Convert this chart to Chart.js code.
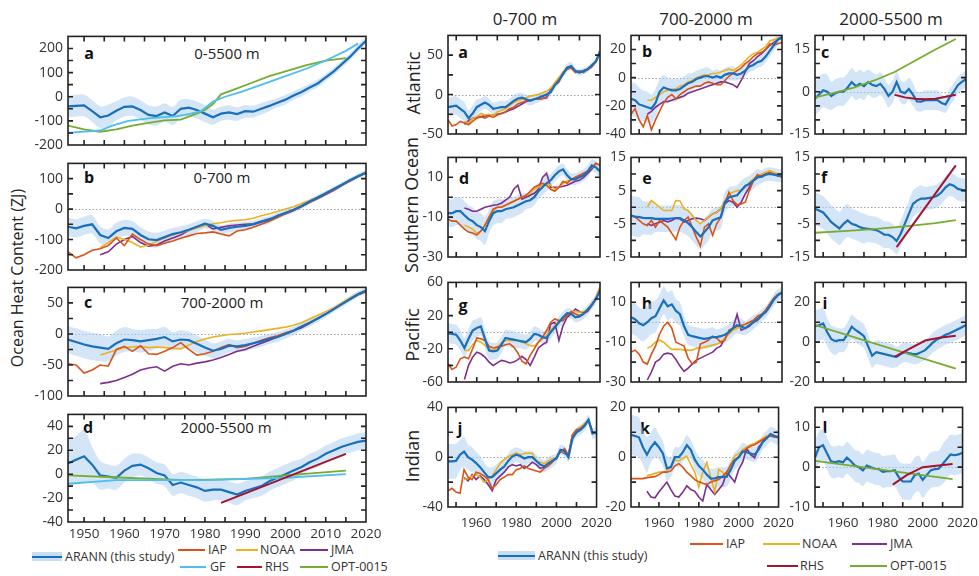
<!DOCTYPE html>
<html><head><meta charset="utf-8">
<script src="https://cdn.jsdelivr.net/npm/chart.js@4.4.1/dist/chart.umd.min.js"></script>
<style>
body{margin:0;background:#fff;width:979px;height:576px;position:relative;overflow:hidden;font-family:'Open Sans',sans-serif;color:#333}
canvas{position:absolute}
.t{position:absolute;white-space:nowrap;transform:translate(-50%,-50%);line-height:1}
.ttl{font-size:15px;color:#222}
.hdr{font-size:17px;color:#222}
.lt{font-size:16px;font-weight:bold;color:#111}
.rot{transform:translate(-50%,-50%) rotate(-90deg);font-size:18px;color:#222}
.lg{position:absolute;font-size:12.5px;color:#333;white-space:nowrap;line-height:1;transform:translateY(-50%)}
.ll{position:absolute;height:2px}
.lb{position:absolute;height:9px;background:rgba(175,208,238,0.7)}
</style></head><body>

<div class="t rot" style="left:17px;top:278px;font-size:16px">Ocean Heat Content (ZJ)</div>
<div class="t ttl" style="left:227px;top:53px">0-5500 m</div>
<div class="t ttl" style="left:222px;top:177px">0-700 m</div>
<div class="t ttl" style="left:222px;top:302px">700-2000 m</div>
<div class="t ttl" style="left:226px;top:427px">2000-5500 m</div>
<div class="t lt" style="left:89px;top:53px">a</div>
<div class="t lt" style="left:89px;top:177px">b</div>
<div class="t lt" style="left:88px;top:302px">c</div>
<div class="t lt" style="left:88px;top:427px">d</div>

<div class="t hdr" style="left:525px;top:18px">0-700 m</div>
<div class="t hdr" style="left:706px;top:18px">700-2000 m</div>
<div class="t hdr" style="left:891px;top:18px">2000-5500 m</div>
<div class="t rot" style="left:413px;top:83px">Atlantic</div>
<div class="t rot" style="left:411px;top:205px">Southern Ocean</div>
<div class="t rot" style="left:412px;top:335px">Pacific</div>
<div class="t rot" style="left:412px;top:456px">Indian</div>
<div class="t lt" style="left:463px;top:52px">a</div>
<div class="t lt" style="left:647px;top:51px">b</div>
<div class="t lt" style="left:825px;top:52px">c</div>
<div class="t lt" style="left:464px;top:178px">d</div>
<div class="t lt" style="left:647px;top:178px">e</div>
<div class="t lt" style="left:824px;top:177px">f</div>
<div class="t lt" style="left:463px;top:305px">g</div>
<div class="t lt" style="left:647px;top:303px">h</div>
<div class="t lt" style="left:825px;top:303px">i</div>
<div class="t lt" style="left:460px;top:428px">j</div>
<div class="t lt" style="left:645px;top:428px">k</div>
<div class="t lt" style="left:825px;top:427px">l</div>

<!-- left legend -->
<div class="lb" style="left:32px;top:552px;width:30px"></div>
<div class="ll" style="left:32px;top:556px;width:30px;background:#1a6fbd"></div>
<div class="lg" style="left:65px;top:557px">ARANN (this study)</div>
<div class="ll" style="left:178px;top:549px;width:27px;background:#d95319"></div>
<div class="lg" style="left:208px;top:550px">IAP</div>
<div class="ll" style="left:236px;top:549px;width:22px;background:#edb120"></div>
<div class="lg" style="left:260px;top:550px">NOAA</div>
<div class="ll" style="left:300px;top:549px;width:28px;background:#7e2f8e"></div>
<div class="lg" style="left:331px;top:550px">JMA</div>
<div class="ll" style="left:180px;top:566px;width:26px;background:#4dbeee"></div>
<div class="lg" style="left:210px;top:567px">GF</div>
<div class="ll" style="left:237px;top:566px;width:25px;background:#a2142f"></div>
<div class="lg" style="left:265px;top:567px">RHS</div>
<div class="ll" style="left:300px;top:566px;width:28px;background:#77ac30"></div>
<div class="lg" style="left:331px;top:567px">OPT-0015</div>

<!-- right legend -->
<div class="lb" style="left:498px;top:551px;width:37px"></div>
<div class="ll" style="left:498px;top:555px;width:37px;background:#1a6fbd"></div>
<div class="lg" style="left:538px;top:556px">ARANN (this study)</div>
<div class="ll" style="left:690px;top:543px;width:33px;background:#d95319"></div>
<div class="lg" style="left:726px;top:544px">IAP</div>
<div class="ll" style="left:763px;top:543px;width:37px;background:#edb120"></div>
<div class="lg" style="left:802px;top:544px">NOAA</div>
<div class="ll" style="left:852px;top:543px;width:35px;background:#7e2f8e"></div>
<div class="lg" style="left:890px;top:544px">JMA</div>
<div class="ll" style="left:767px;top:565px;width:31px;background:#a2142f"></div>
<div class="lg" style="left:800px;top:566px">RHS</div>
<div class="ll" style="left:850px;top:565px;width:37px;background:#77ac30"></div>
<div class="lg" style="left:890px;top:566px">OPT-0015</div>

<script>
// ---------- DATA ----------
const YEARS = [1946,1948,1950,1952,1954,1956,1958,1960,1962,1964,1966,1968,1970,1972,1974,1976,1978,1980,1982,1984,1986,1988,1990,1992,1994,1996,1998,2000,2002,2004,2006,2008,2010,2012,2014,2016,2018,2020];

// Global, left column
const G_ARANN_0_5500 = [-40,-38,-36,-60,-85,-78,-58,-42,-40,-55,-75,-80,-65,-80,-50,-45,-55,-70,-85,-70,-65,-72,-60,-62,-50,-38,-25,-12,5,20,38,55,80,105,135,165,200,232];
const G_UNC_0_5500 = [45,45,45,45,45,45,40,40,40,40,40,40,38,38,38,35,35,35,32,30,30,28,26,25,24,22,20,20,18,18,16,16,15,15,15,15,15,15];
const G_GF_YEARS = [1946,1950,1954,1957,1961,1966,1973,1976,1979,1982,1985,1989,1995,2000,2005,2010,2015,2018];
const G_GF_0_5500 = [-150,-145,-140,-120,-100,-90,-80,-72,-60,-20,0,20,55,85,115,150,190,220];
const G_OPT_YEARS = [1946,1950,1954,1958,1962,1966,1970,1974,1978,1980,1982,1984,1988,1992,1996,2000,2005,2010,2015];
const G_OPT_0_5500 = [-120,-135,-145,-135,-120,-108,-98,-95,-70,-55,-30,10,35,60,85,105,130,150,160];

const G_ARANN_0_700 = [-58,-63,-55,-50,-85,-95,-73,-62,-65,-85,-99,-102,-92,-82,-76,-68,-58,-48,-55,-68,-62,-58,-55,-50,-42,-35,-22,-12,-2,10,25,38,52,66,80,95,108,120];
const G_UNC_0_700 = [30,30,30,30,28,28,28,26,26,25,25,24,22,20,20,18,18,16,16,15,15,14,14,12,12,12,10,10,10,10,9,9,8,8,8,8,8,8];
const G_IAP_0_700 = [-140,-160,-150,-135,-130,-120,-95,-120,-82,-100,-115,-120,-112,-105,-96,-88,-80,-78,-75,-82,-88,-72,-68,-60,-50,-40,-28,-15,-5,8,22,36,50,62,78,93,108,118];
const G_NOAA_0_700 = [null,null,null,null,-127,-110,-92,-100,-110,-125,-118,-106,-95,-85,-78,-70,-62,-55,-48,-45,-40,-37,-35,-30,-22,-15,-8,0,8,18,28,40,52,65,80,95,108,118];
const G_JMA_0_700 = [null,null,null,null,-150,-140,-115,-100,-90,-110,-122,-118,-105,-95,-85,-70,-60,-48,-65,-60,-55,-52,-50,-48,-40,-32,-25,-15,-5,8,22,35,48,62,78,92,106,118];

const G_ARANN_700_2000 = [-9,-13,-17,-20,-22,-24,-15,-9,-10,-12,-10,-8,-5,-12,-9,-10,-16,-22,-27,-24,-19,-20,-18,-15,-12,-8,-5,0,5,12,18,25,32,40,48,56,64,70];
const G_UNC_700_2000 = [22,22,22,22,22,20,20,20,18,18,18,16,16,15,15,14,14,13,12,12,11,10,10,9,9,8,8,7,7,6,6,6,5,5,5,5,5,5];
const G_IAP_700_2000 = [-48,-50,-63,-58,-50,-52,-25,-20,-28,-19,-32,-33,-28,-22,-14,-25,-34,-32,-28,-22,-17,-22,-20,-15,-10,-6,-3,2,6,12,18,25,32,40,48,56,63,68];
const G_NOAA_700_2000 = [null,null,null,null,-34,-30,-26,-22,-21,-20,-22,-21,-22,-23,-24,-18,-12,-8,-5,-3,-1,0,1,3,5,7,9,11,14,18,24,30,36,42,50,58,65,70];
const G_JMA_700_2000 = [null,null,null,null,-80,-78,-75,-70,-65,-58,-55,-53,-60,-52,-48,-50,-47,-45,-42,-38,-33,-28,-25,-20,-15,-10,-5,0,5,10,17,25,32,40,48,56,63,68];

const G_ARANN_2000_5500 = [9,12,15,8,-1,-2,-3,3,7,8,5,1,-1,-9,-7,-9,-11,-14,-13,-13,-15,-17,-14,-12,-10,-6,-3,0,3,6,10,13,17,20,23,25,27,28];
const G_UNC_2000_5500 = [20,20,22,15,12,10,10,10,10,9,9,9,9,9,9,9,9,9,9,9,9,9,8,8,8,8,8,8,8,7,7,7,7,7,7,7,7,7];
const G_GF_DEEP_YEARS = [1946,1958,1980,2000,2015];
const G_GF_2000_5500 = [-8,-5,-5,-3,0];
const G_OPT_DEEP_YEARS = [1946,1960,1975,1990,2000,2015];
const G_OPT_2000_5500 = [-1,-3,-5,-4,-1,3];
const G_RHS_YEARS = [1984,2015];
const G_RHS_2000_5500 = [-24,17];

// Atlantic
const ATL_ARANN_0_700 = [-16,-15,-14,-18,-22,-30,-24,-16,-13,-10,-13,-18,-17,-16,-16,-12,-8,-5,-4,-6,-8,-6,-4,-2,0,3,12,18,26,34,36,30,28,30,32,37,42,55];
const ATL_UNC_0_700 = [12,12,12,12,12,10,10,10,8,8,8,8,8,8,8,7,7,7,6,6,6,6,6,6,6,5,5,5,5,5,5,4,4,4,4,4,4,4];
const ATL_IAP_0_700 = [-32,-40,-38,-34,-36,-38,-34,-30,-28,-30,-27,-29,-26,-24,-22,-18,-16,-12,-10,-8,-7,-6,-6,-5,-3,5,12,16,28,32,34,28,30,28,32,35,42,52];
const ATL_NOAA_0_700 = [null,null,null,null,-34,-36,-30,-28,-24,-26,-25,-27,-22,-20,-18,-14,-10,-8,-6,-4,-2,-1,0,2,4,8,15,22,28,35,33,30,28,30,33,36,43,52];
const ATL_JMA_0_700 = [null,null,null,null,-38,-33,-30,-29,-28,-27,-27,-26,-25,-24,-22,-20,-18,-15,-12,-9,-7,-6,-6,-5,-4,6,14,18,26,33,34,29,28,30,32,36,42,52];

const ATL_ARANN_700_2000 = [-15,-16,-19,-20,-21,-22,-18,-10,-7,-8,-9,-9,-8,-6,-4,-3,-1,0,1,1,0,1,0,2,3,3,2,3,5,8,9,11,12,15,19,23,27,29];
const ATL_UNC_700_2000 = [12,12,12,11,11,10,10,9,9,8,8,8,7,7,7,6,6,6,6,6,5,5,5,5,5,5,4,4,4,4,4,4,4,4,4,4,4,4];
const ATL_IAP_700_2000 = [-26,-22,-30,-35,-27,-37,-30,-24,-18,-14,-12,-15,-12,-10,-8,-7,-6,-6,-4,-3,-4,-5,-5,-2,1,3,5,7,10,12,15,17,18,20,24,23,24,25];
const ATL_NOAA_700_2000 = [null,null,null,null,-16,-16,-14,-12,-10,-9,-8,-8,-6,-5,-3,-2,0,1,2,2,3,3,4,5,6,5,7,9,12,15,17,18,20,22,26,27,28,29];
const ATL_JMA_700_2000 = [null,null,null,null,-26,-24,-21,-19,-17,-17,-16,-15,-14,-13,-11,-10,-9,-8,-7,-6,-5,-4,-3,-3,-4,-5,-7,-2,4,10,12,15,17,20,23,25,27,28];

const ATL_ARANN_2000_5500 = [-2.5,-1,0.5,0,-1.5,-0.5,0,0,1.5,3.4,2,2.8,2,3.4,2.5,2,2.8,1,-1.5,0,3.4,0,-0.5,1,-1,-3.4,-3.5,-3,-3,-3,-3,-4,-4.5,-2,0,2.3,3.5,4.5];
const ATL_UNC_2000_5500 = [6,6,6,6,5,5,5,5,5,5,5,5,5,4.5,4.5,4,4,4,4,4,4,4,4,4,4,3.5,3.5,3.5,3.5,3.5,3.5,3,3,3,3,3,3,3];
const ATL_OPT_YEARS = [1946,1955,1965,1975,1985,1995,2005,2015];
const ATL_OPT_2000_5500 = [-2,-0.5,1.5,4,7,11,15,18.7];
const ATL_RHS_YEARS = [1985,1990,1995,2000,2005,2010,2015];
const ATL_RHS_2000_5500 = [-1.1,-2,-2.5,-2.7,-2.5,-1.8,-1.1];

// Southern Ocean
const SO_ARANN_0_700 = [-8,-8,-7,-7,-9,-11,-12,-14,-15,-17,-12,-8,-7,-7,-6,-5.5,-5,-4,-3,-2,-1.5,0,3,5,7,8.5,11,13,14,11,9,9,10,11,13,16,15,13];
const SO_UNC_0_700 = [7,7,7,7,7,7,7,7,7,7,6,6,6,6,5,5,5,5,5,4,4,4,4,4,4,3,3,3,3,3,3,3,3,3,3,3,3,3];
const SO_IAP_0_700 = [-11,-12,-12,-14,-16,-17.5,-18,-19,-17,-14,-10,-6,-5,-5,-4,-3,-2,-1,0,1,3,5,6,7,6,4,3,5,8,7,9,10,11,12,13,15,17,16];
const SO_NOAA_0_700 = [null,null,null,null,-14,-15,-16,-18,-17,-14,-10,-7,-5,-5,-4,-3,-2,-1,0,1,2,4,5,6,7,6,4,5,7,8,9,10,11,12,13,15,17,16];
const SO_JMA_0_700 = [null,null,null,null,-5.4,-6,-7,-7,-6,-5,-4.5,-4,-3.8,-3,-1.4,0,4,6,-1,0,1,2,4,10,12,5,5,5,5.5,6,7,8,8.5,10,12,14,17,16];

const SO_ARANN_700_2000 = [-2.5,-2.8,-3,-3.2,-3.3,-3.3,-3.5,-3.5,-3.5,-3.5,-3.4,-3.3,-3.3,-4,-4.8,-6,-7.5,-8.8,-7.5,-6,-4,-3.5,-3,1.5,3,3.3,3.6,5,6.4,7,8,9,9.2,9.8,10,9.8,9.5,9.5];
const SO_UNC_700_2000 = [6,6,6,5,5,5,4,4,4,4,4,4,4,4,4,4,4,4,4,4,3.5,3.5,3.5,3,3,3,3,3,2.5,2.5,2.5,2.5,2,2,2,2,2,2];
const SO_IAP_700_2000 = [-2.6,-3,-4,-5,-5.5,-4,-6,-4,-5,-6,-7.9,-9.8,-6,-4,-3,-6,-9,-11.7,-6,-5,-8.5,-5,-3,1,4.5,2,0.7,1,1.5,5,8,9.8,9,10,10.5,10,9.5,9];
const SO_NOAA_700_2000 = [null,null,null,null,0,2,1,0,-1,-1,-1,2,1.9,-0.5,-1,-2.5,-4,-5,-4,-3,-2,-1.5,-0.5,2,4,4.5,5,5,6,7.5,8.5,9.5,10,10.5,11,10.5,10,10];
const SO_JMA_700_2000 = [null,null,null,null,-5,-5.5,-5,-4.5,-4,-4.4,-4,-3.3,-3.5,-4.5,-4,-3.5,-3.3,-3.5,-4,-3,-2,-1.5,-0.5,1,2,1.5,0,1.5,4,6,8,9,9.5,10,10,10,9.5,9.5];

const SO_ARANN_2000_5500 = [-0.5,-1,-1.6,-3,-4.5,-5.5,-6.4,-5,-4,-5,-5.4,-6,-6.4,-6.5,-6.7,-6.9,-7.5,-8.3,-8.3,-9,-10.2,-8,-5,-2,1,2,2.6,2.6,2.8,3,3.5,4.5,6,6.9,6.5,5.5,5.2,5];
const SO_UNC_2000_5500 = [5,5,5,5,5,5,5,5,5,4.5,4.5,4.5,4.5,4,4,4,4,4,4,4,4,4,4,4,4,4,4,3.5,3.5,3.5,3.5,3.5,3.5,3.5,3.5,3.5,3.5,3.5];
const SO_RHS_YEARS = [1986,2015];
const SO_RHS_2000_5500 = [-12,12.6];
const SO_OPT_YEARS = [1946,1960,1975,1990,2005,2015];
const SO_OPT_2000_5500 = [-7.7,-7.2,-6.6,-5.8,-4.8,-3.9];

// Pacific
const PAC_ARANN_0_700 = [-1,-2,-3,-10,-19,-8,2,5,7,-8,-22,-23,-22,-15,-7,-8,-9,-10,-11,-12,-8,-2,-3,-6,-7,0,6,12,18,23,22,18,19,22,27,33,40,50];
const PAC_UNC_0_700 = [12,12,12,12,12,12,12,11,11,11,11,10,10,10,10,10,10,9,9,9,9,9,8,8,8,8,7,7,7,6,6,6,6,6,6,6,6,6];
const PAC_IAP_0_700 = [-38,-45,-42,-32,-30,-32,-20,-7,-8,-10,-17,-19,-18,-17,-15,-14,-18,-25,-35,-38,-28,-20,-12,-6,2,12,16,14,14,20,25,22,20,22,28,33,40,52];
const PAC_NOAA_0_700 = [null,null,null,null,-22,-22,-15,-10,-12,-16,-20,-22,-18,-13,-10,-10,-10,-10,-12,-14,-16,-17,-12,-8,-4,2,8,13,17,22,25,25,24,25,27,34,42,55];
const PAC_JMA_0_700 = [null,null,null,null,-57,-40,-30,-24,-26,-30,-36,-40,-37,-34,-35,-37,-36,-33,-29,-33,-40,-30,-19,-15,-12,10,12,-10,8,18,22,28,25,23,25,32,40,52];

const PAC_ARANN_700_2000 = [2.5,1.5,-0.5,-1.5,0,2,3,7,11,8,9,5.7,4,-2,-6.3,-7,-7.5,-8,-8.3,-8,-7.5,-7.5,-7,-6.3,-5,-3,-1.5,-2,-3,-1.5,0,1.5,3.5,5,8,11.3,13.5,15];
const PAC_UNC_700_2000 = [8,8,8,8,8,8,8,7,7,7,7,6,6,5,5,5,5,5,5,5,5,4,4,4,4,4,4,4,3.5,3.5,3.5,3,3,3,3,3,3,3];
const PAC_IAP_700_2000 = [-15,-14,-16,-20,-21,-16,-12,-6,-2,0,-3,-10,-11,-12,-18,-21,-20,-11,-10,-9,-7,-8,-10,-9,-4,-3,-2,-1.5,-1,0,1,3,4,6,9,12,14,15];
const PAC_NOAA_700_2000 = [null,null,null,null,-13,-12,-10,-9,-10,-12,-13.6,-13.6,-13.6,-14,-14,-14,-13,-13,-12.5,-12,-11.5,-11,-10,-8,-6,-4,-3,-2,-1,0,1,2.5,4,6,9,12,14,15];
const PAC_JMA_700_2000 = [null,null,null,null,-29,-25,-20,-18.7,-16,-15.5,-16,-18.7,-22,-24.7,-23,-21,-19,-18,-17,-16,-15,-13,-12,-8,-5,-3,4,-4,-3,-2,0,1,3,6,9,12,14,15];

const PAC_ARANN_2000_5500 = [8,8.5,9.4,5,1.5,0.5,1,1,4,7.8,6,4.6,3,-2,-6.8,-5,-5.5,-6,-6.5,-7,-7.4,-6,-5,-5.5,-6,-6,-5,-4,-2,0,1.5,2.5,3.7,4.5,5.5,6.5,7.5,8.6];
const PAC_UNC_2000_5500 = [8,8,8,7,7,7,6,6,6,6,6,6,6,6,6,6,6,6,6,6,5,5,5,5,5,5,5,5,5,5,5,5,5,5,5,5,5,5];
const PAC_OPT_YEARS = [1946,2015];
const PAC_OPT_2000_5500 = [8.6,-13.3];
const PAC_RHS_YEARS = [1985,1992,2000,2007,2015];
const PAC_RHS_2000_5500 = [-7.4,-3.5,0.8,2.2,3.2];

// Indian
const IND_ARANN_0_700 = [-3.4,-3.4,-3,2,4.5,0,-2,-4.7,-8,-12,-16,-16,-13,-10,-7.5,-3,0.5,2,1,-1,0,0,-3,-6,-7.3,-5,-3,-1,6,5,0,15,20,22,25,30,19,20];
const IND_UNC_0_700 = [14,14,14,12,12,10,10,9,9,8,8,8,7,7,6,6,6,6,6,6,5,5,5,5,5,5,5,4,4,4,4,4,4,4,4,4,4,4];
const IND_IAP_0_700 = [-27,-25,-28,-29,-10,-16,-18,-12,-13,-15,-18,-25,-22,-18,-16,-14,-14,-10,-9,-7,-9,-10,-11,-12,-9,-7,-4,0,4,7,2,18,22,23,26,30,20,19];
const IND_NOAA_0_700 = [null,null,null,null,-18,-17,-15,-14,-16,-20,-18,-15,-10,-5,-2,0.5,2,3.4,2,3,3.4,3,-3,-4,-5,-3,-1,-1,5,4,2,17,22,24,27,30,20,19];
const IND_JMA_0_700 = [null,null,null,null,-16.5,-19,-14,-18,-15,-18,-22,-27,-18,-15,-12,-8,-6,-7,-6,-9,-7,-4,-6,-9,-8,-5,-3,-1,5,3,2,18,21,24,26,30,20,19];

const IND_ARANN_700_2000 = [9,8.5,8,4,1,4,6,4,1.5,-4.5,-4,0,0,2,4.8,3,-1,-3.5,-5,-7,-8.6,-8.5,-8,-8,-7.8,-5,-1.5,0,2.3,2,1.5,1,3,6,7.5,9.3,8.5,7.8];
const IND_UNC_700_2000 = [8,8,8,7,7,6,6,5,5,5,4,4,4,4,4,4,4,4,4,4,4,4,4,4,4,4,3.5,3.5,3.5,3,3,3,3,3,3,3,3,3];
const IND_IAP_700_2000 = [-8.6,-8.6,-8.6,-8.6,-8.2,-8,-7.8,-7,-6,-6,-5.5,-3.5,-2.6,-4,-6,-7.5,-9,-9.9,-10.5,-11,-10,-9.5,-9,-7.5,-6,-3,-1,0,2,3.5,4.5,5,6,7,8,8.5,8,8];
const IND_NOAA_700_2000 = [null,null,null,null,-7.4,-7,-6.5,-6,-6,-5.5,-4,-1,-1.5,-0.5,0.4,-3,-6,-12,-6,-2,-8,-14,-5,-6,-7.8,-3,0.5,1.5,3,4,5,5.5,6.5,7.5,8.5,9,8.5,8.5];
const IND_JMA_700_2000 = [null,null,null,null,-13.7,-16,-16.3,-14,-12,-10,-13,-15.6,-16,-14,-11.5,-13,-13.7,-16,-17.6,-11,-13,-15,-13,-11,-6,-8,-10,-5,-2,3.5,1,-0.3,4,6,8,9.3,8.5,8];

const IND_ARANN_2000_5500 = [2.4,5,5.5,3.5,1.5,1.2,1.5,1.2,2.4,1.5,0.4,0,-0.8,0.4,0,-0.4,-0.5,-1.2,-1,-1,-0.8,-2.5,-3.6,-3.6,-3.6,-2,-1.6,-3.2,-2,-0.8,-0.5,-0.4,0.8,2,3.2,3,3.2,3.6];
const IND_UNC_2000_5500 = [4,4,4,4,4,4,4,4,4,4,4,4,4,4,4,4,4,4,4,4,4,4,4.5,4.5,4.5,4.5,4.5,4.5,4.5,4.5,4.5,4.5,5,5,5,5,5,5];
const IND_OPT_YEARS = [1946,2015];
const IND_OPT_2000_5500 = [1.6,-3];
const IND_RHS_YEARS = [1985,1992,2000,2015];
const IND_RHS_2000_5500 = [-4.4,-2,0,0.8];

// Tick arrays
const X_TICKS_LEFT = [1950,1955,1960,1965,1970,1975,1980,1985,1990,1995,2000,2005,2010,2015,2020];
const X_LABELS_LEFT = [1950,1960,1970,1980,1990,2000,2010,2020];
const X_TICKS_RIGHT = [1950,1960,1970,1980,1990,2000,2010,2020];
const X_LABELS_RIGHT = [1960,1980,2000,2020];

// ---------- STYLE ----------
const COL = {ARANN:'#1a6fbd', GF:'#4dbeee', IAP:'#d95319', NOAA:'#edb120', JMA:'#7e2f8e', RHS:'#a2142f', OPT:'#77ac30'};
const BAND = 'rgba(175,208,238,0.55)';
const FONT = "'Open Sans', sans-serif";

function rng(a, b, s){ const o=[]; for(let v=a; v<=b+1e-9; v+=s) o.push(+v.toFixed(3)); return o; }

const PANELS = [
 {box:[68,33,366,145], side:'L', y:[-200,250], yt:rng(-200,250,50), yl:[-200,-100,0,100,200], showX:false, zero:false,
  ar:G_ARANN_0_5500, un:G_UNC_0_5500, lines:[['GF',G_GF_YEARS,G_GF_0_5500],['OPT',G_OPT_YEARS,G_OPT_0_5500]]},
 {box:[68,160,366,270], side:'L', y:[-200,150], yt:rng(-200,150,50), yl:[-200,-100,0,100], showX:false, zero:true,
  ar:G_ARANN_0_700, un:G_UNC_0_700, lines:[['JMA',YEARS,G_JMA_0_700],['NOAA',YEARS,G_NOAA_0_700],['IAP',YEARS,G_IAP_0_700]]},
 {box:[68,284,366,396], side:'L', y:[-100,75], yt:rng(-100,75,25), yl:[-100,-50,0,50], showX:false, zero:true,
  ar:G_ARANN_700_2000, un:G_UNC_700_2000, lines:[['JMA',YEARS,G_JMA_700_2000],['NOAA',YEARS,G_NOAA_700_2000],['IAP',YEARS,G_IAP_700_2000]]},
 {box:[68,411,366,522], side:'L', y:[-40,50], yt:rng(-40,50,10), yl:[-40,-20,0,20,40], showX:true, zero:false,
  ar:G_ARANN_2000_5500, un:G_UNC_2000_5500, lines:[['GF',G_GF_DEEP_YEARS,G_GF_2000_5500],['OPT',G_OPT_DEEP_YEARS,G_OPT_2000_5500],['RHS',G_RHS_YEARS,G_RHS_2000_5500]]},

 {box:[448,32,600,134], side:'R', y:[-50,75], yt:rng(-50,75,25), yl:[-50,0,50], showX:false, zero:true,
  ar:ATL_ARANN_0_700, un:ATL_UNC_0_700, lines:[['JMA',YEARS,ATL_JMA_0_700],['NOAA',YEARS,ATL_NOAA_0_700],['IAP',YEARS,ATL_IAP_0_700]]},
 {box:[631,32,782,134], side:'R', y:[-40,30], yt:rng(-40,30,10), yl:[-40,-20,0,20], showX:false, zero:true,
  ar:ATL_ARANN_700_2000, un:ATL_UNC_700_2000, lines:[['JMA',YEARS,ATL_JMA_700_2000],['NOAA',YEARS,ATL_NOAA_700_2000],['IAP',YEARS,ATL_IAP_700_2000]]},
 {box:[815,32,966,134], side:'R', y:[-15,20], yt:rng(-15,20,5), yl:[-15,0,15], showX:false, zero:true,
  ar:ATL_ARANN_2000_5500, un:ATL_UNC_2000_5500, lines:[['OPT',ATL_OPT_YEARS,ATL_OPT_2000_5500],['RHS',ATL_RHS_YEARS,ATL_RHS_2000_5500]]},

 {box:[448,154,600,257], side:'R', y:[-30,20], yt:rng(-30,20,10), yl:[-30,-10,10], showX:false, zero:true,
  ar:SO_ARANN_0_700, un:SO_UNC_0_700, lines:[['JMA',YEARS,SO_JMA_0_700],['NOAA',YEARS,SO_NOAA_0_700],['IAP',YEARS,SO_IAP_0_700]]},
 {box:[631,154,782,257], side:'R', y:[-15,15], yt:rng(-15,15,5), yl:[-15,-5,5,15], showX:false, zero:true,
  ar:SO_ARANN_700_2000, un:SO_UNC_700_2000, lines:[['JMA',YEARS,SO_JMA_700_2000],['NOAA',YEARS,SO_NOAA_700_2000],['IAP',YEARS,SO_IAP_700_2000]]},
 {box:[815,154,966,257], side:'R', y:[-15,15], yt:rng(-15,15,5), yl:[-15,-5,5,15], showX:false, zero:true,
  ar:SO_ARANN_2000_5500, un:SO_UNC_2000_5500, lines:[['OPT',SO_OPT_YEARS,SO_OPT_2000_5500],['RHS',SO_RHS_YEARS,SO_RHS_2000_5500]]},

 {box:[448,279,600,382], side:'R', y:[-60,60], yt:rng(-60,60,20), yl:[-60,-20,20,60], showX:false, zero:true,
  ar:PAC_ARANN_0_700, un:PAC_UNC_0_700, lines:[['JMA',YEARS,PAC_JMA_0_700],['NOAA',YEARS,PAC_NOAA_0_700],['IAP',YEARS,PAC_IAP_0_700]]},
 {box:[631,279,782,382], side:'R', y:[-30,20], yt:rng(-30,20,10), yl:[-30,-10,10], showX:false, zero:true,
  ar:PAC_ARANN_700_2000, un:PAC_UNC_700_2000, lines:[['JMA',YEARS,PAC_JMA_700_2000],['NOAA',YEARS,PAC_NOAA_700_2000],['IAP',YEARS,PAC_IAP_700_2000]]},
 {box:[815,279,966,382], side:'R', y:[-20,30], yt:rng(-20,30,10), yl:[-20,0,20], showX:false, zero:true,
  ar:PAC_ARANN_2000_5500, un:PAC_UNC_2000_5500, lines:[['OPT',PAC_OPT_YEARS,PAC_OPT_2000_5500],['RHS',PAC_RHS_YEARS,PAC_RHS_2000_5500]]},

 {box:[448,404,600,507], side:'R', y:[-40,40], yt:rng(-40,40,20), yl:[-40,0,40], showX:true, zero:true,
  ar:IND_ARANN_0_700, un:IND_UNC_0_700, lines:[['JMA',YEARS,IND_JMA_0_700],['NOAA',YEARS,IND_NOAA_0_700],['IAP',YEARS,IND_IAP_0_700]]},
 {box:[631,404,782,507], side:'R', y:[-20,20], yt:rng(-20,20,10), yl:[-20,0,20], showX:true, zero:true,
  ar:IND_ARANN_700_2000, un:IND_UNC_700_2000, lines:[['JMA',YEARS,IND_JMA_700_2000],['NOAA',YEARS,IND_NOAA_700_2000],['IAP',YEARS,IND_IAP_700_2000]]},
 {box:[815,404,966,507], side:'R', y:[-10,15], yt:rng(-10,15,5), yl:[-10,0,10], showX:true, zero:true,
  ar:IND_ARANN_2000_5500, un:IND_UNC_2000_5500, lines:[['OPT',IND_OPT_YEARS,IND_OPT_2000_5500],['RHS',IND_RHS_YEARS,IND_RHS_2000_5500]]}
];

function pts(xs, ys){ const o=[]; for(let i=0;i<ys.length;i++){ if(ys[i]!==null && ys[i]!==undefined) o.push({x:xs[i], y:ys[i]}); } return o; }

const framePlugin = {
  id:'frame',
  beforeDatasetsDraw(chart, args, opts){
    if(!opts.zero) return;
    const {ctx, chartArea:a, scales:{y}} = chart;
    const py = Math.round(y.getPixelForValue(0))+0.5;
    ctx.save(); ctx.strokeStyle='rgba(150,150,150,0.9)'; ctx.lineWidth=1; ctx.setLineDash([1.5,2]);
    ctx.beginPath(); ctx.moveTo(a.left,py); ctx.lineTo(a.right,py); ctx.stroke(); ctx.restore();
  },
  afterDraw(chart){
    const {ctx, chartArea:a, scales:{x,y}} = chart;
    ctx.save(); ctx.strokeStyle='#222'; ctx.lineWidth=1.6;
    ctx.strokeRect(a.left, a.top, a.right-a.left, a.bottom-a.top);
    const L=5; ctx.beginPath();
    x.ticks.forEach(t=>{ const p=x.getPixelForValue(t.value); if(p<=a.left+1||p>=a.right-1) return;
      ctx.moveTo(p,a.bottom); ctx.lineTo(p,a.bottom-L); ctx.moveTo(p,a.top); ctx.lineTo(p,a.top+L); });
    y.ticks.forEach(t=>{ const p=y.getPixelForValue(t.value); if(p<=a.top+1||p>=a.bottom-1) return;
      ctx.moveTo(a.left,p); ctx.lineTo(a.left+L,p); ctx.moveTo(a.right,p); ctx.lineTo(a.right-L,p); });
    ctx.stroke(); ctx.restore();
  }
};

const ORDER = {ARANN:3, RHS:1, OPT:2, GF:2, IAP:4, NOAA:5, JMA:6};
const WIDTH = {ARANN:2.2, RHS:2, OPT:1.8, GF:1.8, IAP:1.6, NOAA:1.6, JMA:1.6};

PANELS.forEach(p=>{
  const [l,t,r,b] = p.box;
  const YW=45, PT=10, PR=20, XH=24;
  const cv = document.createElement('canvas');
  cv.width = (r-l)+YW+PR; cv.height = (b-t)+PT+XH;
  cv.style.left=(l-YW)+'px'; cv.style.top=(t-PT)+'px';
  document.body.appendChild(cv);
  const lo = p.ar.map((v,i)=>v-p.un[i]);
  const hi = p.ar.map((v,i)=>v+p.un[i]);
  const ds = [
    {data:pts(YEARS,lo), borderWidth:0, pointRadius:0, fill:false, order:20, borderColor:'rgba(0,0,0,0)', tension:0.3},
    {data:pts(YEARS,hi), borderWidth:0, pointRadius:0, fill:'-1', backgroundColor:BAND, order:20, borderColor:'rgba(0,0,0,0)', tension:0.3}
  ];
  p.lines.forEach(([k,xs,ys])=>{
    ds.push({data:pts(xs,ys), borderColor:COL[k], borderWidth:WIDTH[k], pointRadius:0, fill:false, tension:0, order:ORDER[k]});
  });
  ds.push({data:pts(YEARS,p.ar), borderColor:COL.ARANN, borderWidth:WIDTH.ARANN, pointRadius:0, fill:false, tension:0, order:ORDER.ARANN});
  const XT = p.side==='L'?X_TICKS_LEFT:X_TICKS_RIGHT;
  const XL = p.side==='L'?X_LABELS_LEFT:X_LABELS_RIGHT;
  new Chart(cv, {
    type:'line',
    data:{datasets:ds},
    options:{
      responsive:false, animation:false, devicePixelRatio:1,
      layout:{padding:{top:PT,right:PR,left:0,bottom:0}},
      plugins:{legend:{display:false}, tooltip:{enabled:false}, frame:{zero:p.zero}},
      scales:{
        x:{type:'linear', min:1946, max:2020,
           afterBuildTicks:s=>{s.ticks=XT.map(v=>({value:v}));},
           afterFit:s=>{s.height=XH;},
           grid:{display:false, drawTicks:false}, border:{display:false},
           ticks:{display:p.showX, autoSkip:false, maxRotation:0, minRotation:0, padding:p.side==='L'?4:8, color:'#333', font:{family:FONT,size:13.5},
                  callback:v=>XL.includes(v)?String(v):''}},
        y:{type:'linear', min:p.y[0], max:p.y[1],
           afterBuildTicks:s=>{s.ticks=p.yt.map(v=>({value:v}));},
           afterFit:s=>{s.width=YW;},
           grid:{display:false, drawTicks:false}, border:{display:false},
           ticks:{autoSkip:false, padding:5, color:'#333', font:{family:FONT,size:14},
                  callback:v=>p.yl.includes(v)?String(v):''}}
      }
    },
    plugins:[framePlugin]
  });
});
</script>
</body></html>
